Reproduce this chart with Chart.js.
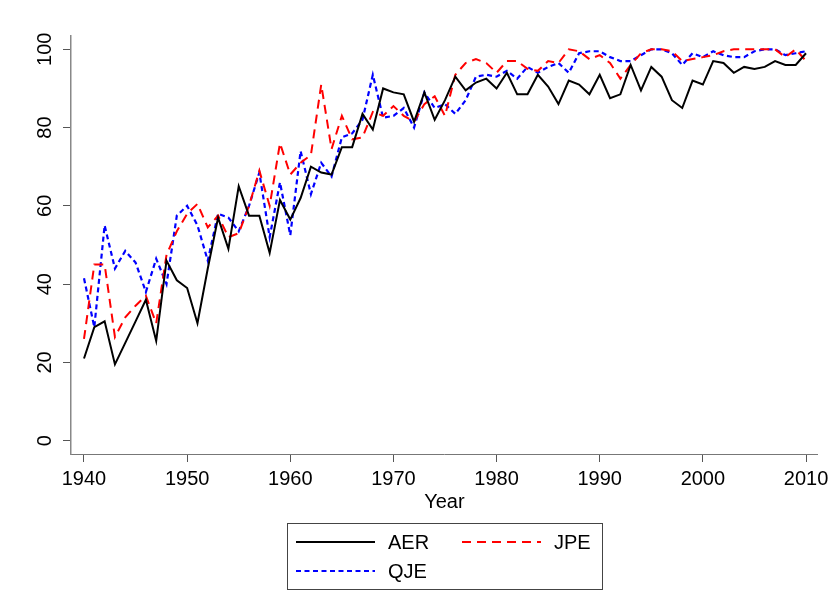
<!DOCTYPE html>
<html>
<head>
<meta charset="utf-8">
<script src="https://cdn.jsdelivr.net/npm/chart.js@4.4.0/dist/chart.umd.min.js"></script>
<style>
    html, body { margin: 0; padding: 0; background: #fff; }
    #wrap { width: 834px; height: 613px; }
</style>
</head>
<body>
<div id="wrap"><canvas id="chart" width="834" height="613"></canvas></div>
<script>
// Data
const years = [
    1940, 1941, 1942, 1943, 1944, 1945, 1946, 1947, 1948, 1949,
    1950, 1951, 1952, 1953, 1954, 1955, 1956, 1957, 1958, 1959,
    1960, 1961, 1962, 1963, 1964, 1965, 1966, 1967, 1968, 1969,
    1970, 1971, 1972, 1973, 1974, 1975, 1976, 1977, 1978, 1979,
    1980, 1981, 1982, 1983, 1984, 1985, 1986, 1987, 1988, 1989,
    1990, 1991, 1992, 1993, 1994, 1995, 1996, 1997, 1998, 1999,
    2000, 2001, 2002, 2003, 2004, 2005, 2006, 2007, 2008, 2009, 2010
];
const aer = [
    21, 29, 30.5, 19.5, 25, 30.5, 36, 25.5, 46, 41,
    39, 30, 44, 57, 49, 65, 57.5, 57.5, 48, 61.5,
    56.5, 62, 70, 68.5, 68, 75, 75, 83.5, 79.5, 90,
    89, 88.5, 81.5, 89, 82, 87, 93, 89.5, 91.5, 92.5,
    90, 94, 88.5, 88.5, 93.5, 90.5, 86, 92, 91, 88.5,
    93.5, 87.5, 88.5, 96, 89.5, 95.5, 93, 87, 85, 92,
    91, 97, 96.5, 94, 95.5, 95, 95.5, 97, 96, 96, 99
];
const jpe = [
    26, 45, 45, 26.5, 31.5, 34.5, 37, 30, 47.5, 53.5,
    58, 60.5, 54.5, 57.5, 52, 53, 60, 69, 60, 76,
    68, 71, 73, 91, 74.5, 83, 77, 77.5, 84, 83,
    85.5, 83, 81.5, 86, 88, 83, 93.5, 96.5, 97.5, 96.5,
    94, 97, 97, 95, 94.5, 97, 96.5, 100, 99.5, 97.5,
    98.5, 96.5, 92.5, 96, 99, 100, 100, 99.5, 97, 97.5,
    98, 98.5, 99.5, 100, 100, 100, 100, 100, 98, 100, 97
];
const qje = [
    41.5, 29, 55, 44, 48.5, 45.5, 38, 46.5, 40, 57.5,
    60, 55, 46, 58, 57, 53.5, 60, 68.5, 52, 66,
    52.5, 74, 63, 71, 67.5, 77.5, 78.5, 82, 93.5, 82.5,
    83, 85, 80, 89, 85, 86, 83.5, 87, 93, 93.5,
    93, 94.5, 92.5, 95.5, 94, 95.5, 96.5, 94, 99, 99.5,
    99.5, 98, 97, 97, 98.5, 100, 100, 99, 96, 99,
    98, 99.5, 98.5, 98, 98, 99.5, 100, 100, 98.5, 99, 99.5
];
const seriesNames = ['AER', 'JPE', 'QJE'];
const xTicks = [1940, 1950, 1960, 1970, 1980, 1990, 2000, 2010];
const yTicks = [0, 20, 40, 60, 80, 100];

const FONT = "'Liberation Sans', Arial, sans-serif";

const toPoints = vals => years.map((yr, i) => ({ x: yr, y: vals[i] }));

// Stata-style boxed legend, two columns
const boxLegend = {
    id: 'boxLegend',
    afterDraw(chart) {
        const ctx = chart.ctx;
        const ds = chart.data.datasets;
        ctx.save();
        ctx.strokeStyle = '#444';
        ctx.lineWidth = 1;
        ctx.strokeRect(287.5, 523.5, 315, 66);

        const slots = [
            { x: 296, y: 542 },
            { x: 462, y: 542 },
            { x: 296, y: 571 }
        ];
        ds.forEach((d, i) => {
            const s = slots[i];
            ctx.beginPath();
            ctx.strokeStyle = d.borderColor;
            ctx.lineWidth = d.borderWidth;
            ctx.setLineDash(d.borderDash || []);
            ctx.moveTo(s.x, s.y);
            ctx.lineTo(s.x + 79, s.y);
            ctx.stroke();
            ctx.setLineDash([]);
            ctx.fillStyle = '#000';
            ctx.font = `20px ${FONT}`;
            ctx.textBaseline = 'middle';
            ctx.textAlign = 'left';
            ctx.fillText(d.label, s.x + 92, s.y + 1);
        });
        ctx.restore();
    }
};

const common = { pointRadius: 0, pointHoverRadius: 0, tension: 0, fill: false, borderWidth: 2 };

new Chart(document.getElementById('chart'), {
    type: 'line',
    data: {
        datasets: [
            { ...common, label: seriesNames[0], data: toPoints(aer), borderColor: '#000000' },
            { ...common, label: seriesNames[1], data: toPoints(jpe), borderColor: '#ff0000', borderDash: [9, 6] },
            { ...common, label: seriesNames[2], data: toPoints(qje), borderColor: '#0000ff', borderDash: [5, 3.5], borderWidth: 2.2 }
        ]
    },
    options: {
        responsive: false,
        animation: false,
        layout: { padding: { left: 0, top: 36, right: 15, bottom: 99 } },
        plugins: {
            legend: { display: false },
            tooltip: { enabled: false }
        },
        scales: {
            x: {
                type: 'linear',
                min: 1938.74,
                max: 2011.13,
                afterBuildTicks: s => { s.ticks = xTicks.map(v => ({ value: v })); },
                afterFit: s => { s.height = 60; },
                border: { display: true, color: '#777', width: 1 },
                grid: { drawOnChartArea: false, drawTicks: true, tickLength: 8, color: '#555' },
                ticks: {
                    autoSkip: false, maxRotation: 0, minRotation: 0, padding: 5.5,
                    color: '#000', font: { family: FONT, size: 20 },
                    callback: v => String(v)
                },
                title: {
                    display: true, text: 'Year', color: '#000',
                    font: { family: FONT, size: 20 }, padding: { top: -12.5, bottom: 0 }
                }
            },
            y: {
                type: 'linear',
                min: -3.4,
                max: 103.4,
                afterBuildTicks: s => { s.ticks = yTicks.map(v => ({ value: v })); },
                afterFit: s => { s.width = 71; },
                border: { display: true, color: '#888', width: 1.5 },
                grid: { drawOnChartArea: false, drawTicks: true, tickLength: 8, color: '#555' },
                ticks: {
                    minRotation: 90, maxRotation: 90, crossAlign: 'center', padding: 1,
                    color: '#000', font: { family: FONT, size: 20 },
                    callback: v => String(v)
                }
            }
        }
    },
    plugins: [boxLegend]
});
</script>
</body>
</html>
